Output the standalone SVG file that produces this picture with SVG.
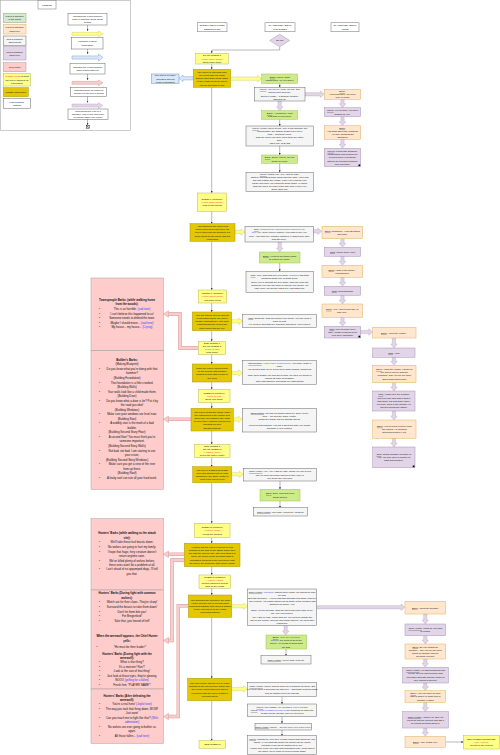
<svg xmlns="http://www.w3.org/2000/svg" width="500" height="755" viewBox="0 0 500 755">
<style>
text{font-family:"Liberation Sans",Arial,sans-serif;fill:#111}
.t{font-size:2.4px;text-anchor:middle}
.b{font-size:2.85px;text-anchor:middle}
.bb{font-weight:bold}
.u{text-decoration:underline}
.bl{fill:#3838ff}
.rd{fill:#ff3030}
.grey{fill:#f5f5f5;stroke:#666;stroke-width:.5}
.green{fill:#cdeb8b;stroke:#9bc25a;stroke-width:.5}
.lgreen{fill:#d5e8d4;stroke:#82b366;stroke-width:.5}
.orange{fill:#ffe6cc;stroke:#e0b060;stroke-width:.5}
.purple{fill:#e1d5e7;stroke:#a991b8;stroke-width:.5}
.yellow{fill:#ffff88;stroke:#b8b860;stroke-width:.5}
.gold{fill:#e3c800;stroke:#b09500;stroke-width:.5}
.pink{fill:#ffcccc;stroke:#a89a9a;stroke-width:.5}
.blue{fill:#dae8fc;stroke:#6c8ebf;stroke-width:.5}
.hdr{fill:#fff;stroke:#888;stroke-width:.6}
.fy{fill:#ffff88;stroke:#c8c850;stroke-width:.4}
.fb{fill:#dae8fc;stroke:#6c8ebf;stroke-width:.4}
.fp{fill:#e1d5e7;stroke:#b59ec4;stroke-width:.4}
.fr{fill:#f8cecc;stroke:#d08a88;stroke-width:.4}
.ln{fill:none;stroke:#333;stroke-width:.35;marker-end:url(#ah)}
.band1{fill:none;stroke:#d99090;stroke-width:3.4}
.band2{fill:none;stroke:#f8cecc;stroke-width:2.5}
.end{fill:#000;stroke:#fff;stroke-width:.3}
</style>
<defs>
<marker id="ah" viewBox="0 0 6 6" refX="6" refY="3" markerWidth="2" markerHeight="2" markerUnits="userSpaceOnUse" orient="auto"><path d="M0,0 L6,3 L0,6 z" fill="#333"/></marker>
</defs>
<rect width="500" height="755" fill="#fff"/>

<g id="legend">
<rect x="0.5" y="0.5" width="130" height="130" fill="#fff" stroke="#999" stroke-width=".5"/>
<rect class="hdr" x="38" y="0.5" width="18" height="8.5"/>
<text class="t" x="47" y="5.6">LEGEND</text>
<rect class="lgreen" x="3.3" y="13.3" width="22.7" height="9.4"/>
<text class="t"><tspan x="14.65" y="17.3">Player's dialogue</tspan><tspan x="14.65" y="20.4">in the quest</tspan></text>
<rect class="orange" x="3.3" y="24.3" width="22.7" height="9.7"/>
<text class="t"><tspan x="14.65" y="28.45">Player's dialogue</tspan><tspan x="14.65" y="31.55">about lore</tspan></text>
<rect class="grey" x="3.3" y="36" width="22.7" height="9.3"/>
<text class="t"><tspan x="14.65" y="39.95">NPC's dialogue</tspan><tspan x="14.65" y="43.05">about quest</tspan></text>
<rect class="purple" x="3.3" y="46.7" width="22.7" height="13.3"/>
<text class="t"><tspan x="14.65" y="52.65">NPC's dialogue</tspan><tspan x="14.65" y="55.75">about lore</tspan></text>
<rect class="pink" x="3.3" y="62.7" width="22.7" height="9"/>
<text class="t" x="14.65" y="68.05">NPC barks</text>
<rect class="yellow" x="3.3" y="73.3" width="27.4" height="12.7"/>
<text class="t"><tspan x="17" y="77.4"><tspan class="rd">QUEST TITLE</tspan> &amp; what</tspan><tspan x="17" y="80.5">the player displays as</tspan><tspan x="17" y="83.6">information</tspan></text>
<rect class="gold" x="3.3" y="87.7" width="25" height="9"/>
<text class="t" x="15.8" y="93.05">QUEST description</text>
<rect class="grey" x="3.3" y="98.7" width="27.4" height="9.6" style="fill:#fff"/>
<text class="t"><tspan x="17" y="102.8">Hints in BOLD=</tspan><tspan x="17" y="105.9">Nothing</tspan></text>

<rect class="grey" x="68" y="13.3" width="39" height="11.7" style="fill:#fff"/>
<text class="t"><tspan x="87.5" y="16.9">Indicates the exact moment</tspan><tspan x="87.5" y="20">when a dialogue about quest</tspan><tspan x="87.5" y="23.1">begins</tspan></text>
<polygon class="fy" points="72,32.35 98.5,32.35 98.5,31 103,33.85 98.5,36.7 98.5,35.35 72,35.35"/>
<rect class="grey" x="71.7" y="37.3" width="31.3" height="11.7" style="fill:#fff"/>
<text class="t"><tspan x="87.35" y="42.45">Indicates a visual</tspan><tspan x="87.35" y="45.55">description</tspan></text>
<polygon class="fb" points="72,55.9 98.5,55.9 98.5,54 103,57.5 98.5,61 98.5,59.1 72,59.1"/>
<rect class="grey" x="70" y="63.3" width="35" height="10.7" style="fill:#fff"/>
<text class="t"><tspan x="87.5" y="67.95">Indicates the exact moment</tspan><tspan x="87.5" y="71.05">when barks happens</tspan></text>
<polygon class="fr" points="72,81.35 98.5,81.35 98.5,80 103,82.85 98.5,85.7 98.5,84.35 72,84.35"/>
<rect class="grey" x="70.7" y="87.3" width="36" height="9.4" style="fill:#fff"/>
<text class="t"><tspan x="88.7" y="91.3">Indicates when an option to</tspan><tspan x="88.7" y="94.4">choose for the player begins</tspan></text>
<polygon class="fp" points="72,104 98.5,104 98.5,102.65 103,105.5 98.5,108.35 98.5,107 72,107"/>
<rect class="grey" x="68" y="109" width="40" height="10.3" style="fill:#fff"/>
<text class="t"><tspan x="88" y="111.9">Represents the end of a</tspan><tspan x="88" y="115">dialogue. Player will now have</tspan><tspan x="88" y="118.1">to choose again one option</tspan></text>
<path class="ln" d="M87.5,25 V31"/>
<path class="ln" d="M87.5,49 V54"/>
<path class="ln" d="M87.5,74 V80"/>
<path class="ln" d="M87.5,96.7 V102.6"/>
<path class="ln" d="M87.5,119.3 V125"/>
<rect x="86.2" y="125.2" width="3" height="3" fill="#fff" stroke="#000" stroke-width=".4"/>
<path d="M86.2,125.2 L89.2,128.2 M89.2,125.2 L86.2,128.2" stroke="#000" stroke-width=".4"/>
</g>

<g id="connectors">
<path class="ln" d="M279.7,46.75 V50 H211.7 V53.3"/>
<path class="ln" d="M211.7,64 V69.3"/>
<path class="ln" d="M279.7,83.3 V87.3"/>
<path class="ln" d="M279.7,119.3 V126"/>
<path class="ln" d="M279.7,146 V155"/>
<path class="ln" d="M279.7,163.3 V172.3"/>
<path class="ln" d="M211.7,87.3 V193"/>
<path class="ln" d="M211.7,211.3 V223.7"/>
<path class="ln" d="M279.7,263 V271.3"/>
<path class="ln" d="M211.7,241.3 V290"/>
<path class="ln" d="M211.7,303 V312"/>
<path class="ln" d="M211.7,330.7 V341.3"/>
<path class="ln" d="M211.7,354.7 V364"/>
<path class="ln" d="M211.7,382 V389.3"/>
<path class="ln" d="M211.7,402.7 V408.3"/>
<path class="ln" d="M211.7,431 V444.3"/>
<path class="ln" d="M211.7,457.7 V466.7"/>
<path class="ln" d="M280,481 V489.3"/>
<path class="ln" d="M280,501 V507.7"/>
<path class="ln" d="M211.7,482.7 V523.3"/>
<path class="ln" d="M211.7,537.7 V543.3"/>
<path class="ln" d="M211.7,566.7 V575"/>
<path class="ln" d="M211.7,588.3 V595"/>
<path class="ln" d="M286,649 V655.7"/>
<path class="ln" d="M211.7,617.3 V678.3"/>
<path class="ln" d="M282,696.7 V704"/>
<path class="ln" d="M282,716.7 V723.3"/>
<path class="ln" d="M282,730 V735.7"/>
<path class="ln" d="M211.7,700.7 V740.7"/>
<path class="ln" d="M445.7,742 H463.3"/>

<polygon class="fy" points="230.7,77.1 257.7,77.1 257.7,75.5 261.7,78.7 257.7,81.9 257.7,80.3 230.7,80.3"/>
<polygon class="fy" points="235,230.4 241,230.4 241,228.8 245,232 241,235.2 241,233.6 235,233.6"/>
<polygon class="fy" points="231.7,319.7 238.7,319.7 238.7,318.1 242.7,321.3 238.7,324.5 238.7,322.9 231.7,322.9"/>
<polygon class="fy" points="231.7,371.4 238.7,371.4 238.7,369.8 242.7,373 238.7,376.2 238.7,374.6 231.7,374.6"/>
<polygon class="fy" points="233.3,417.7 238.3,417.7 238.3,416.1 242.3,419.3 238.3,422.5 238.3,420.9 233.3,420.9"/>
<polygon class="fy" points="231.7,472.7 239.3,472.7 239.3,471.1 243.3,474.3 239.3,477.5 239.3,475.9 231.7,475.9"/>
<polygon class="fy" points="231.7,604.7 243.7,604.7 243.7,603.1 247.7,606.3 243.7,609.5 243.7,607.9 231.7,607.9"/>
<polygon class="fy" points="231.7,687.4 243.7,687.4 243.7,685.8 247.7,689 243.7,692.2 243.7,690.6 231.7,690.6"/>
<polygon class="fb" points="193.3,76.7 183,76.7 183,75.1 179,78.3 183,81.5 183,79.9 193.3,79.9"/>

<polygon class="fp" points="305,92.7 320.3,92.7 320.3,91.1 324.3,94.3 320.3,97.5 320.3,95.9 305,95.9"/>
<polygon class="fp" points="313.3,229.7 317.7,229.7 317.7,228.1 321.7,231.3 317.7,234.5 317.7,232.9 313.3,232.9"/>
<polygon class="fp" points="360.7,330.4 368.7,330.4 368.7,328.8 372.7,332 368.7,335.2 368.7,333.6 360.7,333.6"/>
<polygon class="fp" points="316.7,605.7 401,605.7 401,604.1 405,607.3 401,610.5 401,608.9 316.7,608.9"/>
<polygon class="fp" points="278.1,101 281.3,101 281.3,106.7 282.9,106.7 279.7,110.7 276.5,106.7 278.1,106.7"/>
<polygon class="fp" points="278.1,242 281.3,242 281.3,248 282.9,248 279.7,252 276.5,248 278.1,248"/>
<polygon class="fp" points="284.1,625.7 287.3,625.7 287.3,631 288.9,631 285.7,635 282.5,631 284.1,631"/>
<polygon class="fp" points="340.9,99.3 344.1,99.3 344.1,103.7 345.7,103.7 342.5,107.7 339.3,103.7 340.9,103.7"/>
<polygon class="fp" points="340.9,116.7 344.1,116.7 344.1,121.7 345.7,121.7 342.5,125.7 339.3,121.7 340.9,121.7"/>
<polygon class="fp" points="340.9,139.3 344.1,139.3 344.1,144.3 345.7,144.3 342.5,148.3 339.3,144.3 340.9,144.3"/>
<polygon class="fp" points="340.9,238.7 344.1,238.7 344.1,243.3 345.7,243.3 342.5,247.3 339.3,243.3 340.9,243.3"/>
<polygon class="fp" points="340.9,256.3 344.1,256.3 344.1,261.3 345.7,261.3 342.5,265.3 339.3,261.3 340.9,261.3"/>
<polygon class="fp" points="340.9,277.3 344.1,277.3 344.1,282.3 345.7,282.3 342.5,286.3 339.3,282.3 340.9,282.3"/>
<polygon class="fp" points="340.9,295.3 344.1,295.3 344.1,300 345.7,300 342.5,304 339.3,300 340.9,300"/>
<polygon class="fp" points="340.9,317.3 344.1,317.3 344.1,322.3 345.7,322.3 342.5,326.3 339.3,322.3 340.9,322.3"/>
<polygon class="fp" points="392.4,338 395.6,338 395.6,344 397.2,344 394,348 390.8,344 392.4,344"/>
<polygon class="fp" points="392.4,357.3 395.6,357.3 395.6,361.3 397.2,361.3 394,365.3 390.8,361.3 392.4,361.3"/>
<polygon class="fp" points="392.4,382.7 395.6,382.7 395.6,387 397.2,387 394,391 390.8,387 392.4,387"/>
<polygon class="fp" points="392.4,411 395.6,411 395.6,416 397.2,416 394,420 390.8,416 392.4,416"/>
<polygon class="fp" points="392.4,438.3 395.6,438.3 395.6,443 397.2,443 394,447 390.8,443 392.4,443"/>
<polygon class="fp" points="423.7,614 426.9,614 426.9,620 428.5,620 425.3,624 422.1,620 423.7,620"/>
<polygon class="fp" points="423.7,635.7 426.9,635.7 426.9,640 428.5,640 425.3,644 422.1,640 423.7,640"/>
<polygon class="fp" points="423.7,659 426.9,659 426.9,663.3 428.5,663.3 425.3,667.3 422.1,663.3 423.7,663.3"/>
<polygon class="fp" points="423.7,683 426.9,683 426.9,686.7 428.5,686.7 425.3,690.7 422.1,686.7 423.7,686.7"/>
<polygon class="fp" points="423.7,702.3 426.9,702.3 426.9,707.7 428.5,707.7 425.3,711.7 422.1,707.7 423.7,707.7"/>
<polygon class="fp" points="423.7,728 426.9,728 426.9,732.3 428.5,732.3 425.3,736.3 422.1,732.3 423.7,732.3"/>

<path class="band1" d="M198.3,348 H180 V314 H168.5"/>
<path class="band1" d="M191,419.3 H168.5"/>
<path class="band1" d="M184.3,554.3 H168.5"/>
<path class="band1" d="M184.3,560 H172 V640.5 H168.5"/>
<path class="band1" d="M188.3,605.7 H178.3 V716.5 H168.5"/>
<path class="band2" d="M198.3,348 H180 V314 H168"/>
<path class="band2" d="M191,419.3 H168"/>
<path class="band2" d="M184.3,554.3 H168"/>
<path class="band2" d="M184.3,560 H172 V640.5 H168"/>
<path class="band2" d="M188.3,605.7 H178.3 V716.5 H168"/>
<polygon class="fr" points="163.3,314 168.5,310.8 168.5,317.2"/>
<polygon class="fr" points="163.3,419.3 168.5,416.1 168.5,422.5"/>
<polygon class="fr" points="163.3,554.3 168.5,551.1 168.5,557.5"/>
<polygon class="fr" points="163.3,640.5 168.5,637.3 168.5,643.7"/>
<polygon class="fr" points="163.3,716.5 168.5,713.3 168.5,719.7"/>
</g>

<g id="headers">
<rect class="hdr" x="197.3" y="22.7" width="29.7" height="9"/>
<text class="t"><tspan x="212.15" y="26.45">QUEST LINE &amp; QUEST</tspan><tspan x="212.15" y="29.65">DESCRIPTION</tspan></text>
<rect class="hdr" x="265" y="22.7" width="30" height="9"/>
<text class="t"><tspan x="280" y="26.45">DIALOGUES ABOUT</tspan><tspan x="280" y="29.65">THE QUEST</tspan></text>
<rect class="hdr" x="331" y="22.7" width="28" height="9"/>
<text class="t"><tspan x="345" y="26.45">DIALOGUES ABOUT</tspan><tspan x="345" y="29.65">LORE</tspan></text>
</g>

<g id="start">
<polygon class="purple" points="279.7,34.3 289.7,40.5 279.7,46.75 269.7,40.5"/>
<text class="t" x="279.7" y="41.35">START</text>
</g>

<g id="q1">
<rect class="yellow" x="195.7" y="53.3" width="32.6" height="10.7"/>
<text class="t"><tspan x="212" y="56.3">START QUEST 1</tspan><tspan class="rd" x="212" y="59.5">"Home sweet home"</tspan><tspan x="212" y="62.7">Come back home</tspan></text>
</g>
<g id="g1">
<rect class="gold" x="193.3" y="69.3" width="37.4" height="18"/>
<text class="t"><tspan x="212" y="72.75">The player is returning from</tspan><tspan x="212" y="75.95">the forest after the basic</tspan><tspan x="212" y="79.15">tutorial (and when at the gates</tspan><tspan x="212" y="82.35">of the village sees the mayor</tspan><tspan x="212" y="85.55">injured and talks to him</tspan></text>
</g>
<g id="b1">
<rect class="blue" x="151.7" y="74" width="27.3" height="9.3"/>
<text class="t"><tspan x="165.35" y="76.3">The mayor is visibly</tspan><tspan x="165.35" y="79.5">wounded and his</tspan><tspan x="165.35" y="82.7">head is bandaged</tspan></text>
</g>
<g id="d1">
<rect class="green" x="261.7" y="74" width="36" height="9.3"/>
<text class="t"><tspan x="279.7" y="77.9"><tspan class="u">Bauu</tspan>: Mayor, what</tspan><tspan x="279.7" y="81.1">happened? Are you okay?</tspan></text>
</g>
<g id="d2">
<rect class="grey" x="254.3" y="87.3" width="50.7" height="13.7"/>
<text class="t"><tspan x="279.65" y="90.2"><tspan class="u">Mayor</tspan>: <tspan class="bl">(struggling)</tspan> Yeah, I'm fine, this</tspan><tspan x="279.65" y="93.4">wound can't beat me.</tspan><tspan x="279.65" y="96.6">But our village... a strange creature</tspan><tspan x="279.65" y="99.8">attacked us.</tspan></text>
</g>
<g id="d3">
<rect class="green" x="261.7" y="110.7" width="36" height="8.6"/>
<text class="t"><tspan x="279.7" y="114.25"><tspan class="u">Bauu</tspan>: A creature?! Yeah</tspan><tspan x="279.7" y="117.45">and how is everyone?</tspan></text>
</g>
<g id="d4">
<rect class="grey" x="246" y="126" width="67.3" height="20"/>
<text class="t"><tspan x="279.65" y="129.35"><tspan class="u">Mayor</tspan>: Luckily we're all fine, only a few wounds, but</tspan><tspan x="279.65" y="132.35">unfortunately the dragon destroyed a lot of</tspan><tspan x="279.65" y="135.35">huts... including yours.</tspan><tspan x="279.65" y="138.35">Now we need your help, more than any other</tspan><tspan x="279.65" y="141.35">time.</tspan><tspan x="279.65" y="144.35">HELP US, PLEASE</tspan></text>
</g>
<g id="d5">
<rect class="green" x="261.7" y="155" width="36" height="8.3"/>
<text class="t"><tspan x="279.7" y="158.4"><tspan class="u">Bauu</tspan>: Surely Mayor. Tell me</tspan><tspan x="279.7" y="161.6">what you need.</tspan></text>
</g>
<g id="d6">
<rect class="grey" x="246" y="172.3" width="67.3" height="19"/>
<text class="t"><tspan x="279.65" y="175.15"><tspan class="u">Mayor</tspan>: Thank you, "PLAYER NAME".</tspan><tspan x="279.65" y="178.15">Start by collecting some wood with the Jack, you'll find</tspan><tspan x="279.65" y="181.15">him just outside the village. Then you'll rebuild your</tspan><tspan x="279.65" y="184.15">house and once you complete these tasks, I'll check</tspan><tspan x="279.65" y="187.15">what we need, so come back later and I'll give you</tspan><tspan x="279.65" y="190.15">some other job.</tspan></text>
</g>

<g id="l1">
<rect class="orange" x="324.3" y="89.3" width="36.4" height="10"/>
<text class="t"><tspan x="342.5" y="92.15"><tspan class="u">Bauu</tspan>:</tspan><tspan x="342.5" y="95.15">How long have you been</tspan><tspan x="342.5" y="98.15">here in pain?</tspan></text>
</g>
<g id="l2">
<rect class="purple" x="324.3" y="107.7" width="36.4" height="9"/>
<text class="t"><tspan x="342.5" y="111.45"><tspan class="u">Mayor</tspan>: I've no idea, I've been</tspan><tspan x="342.5" y="114.65">waiting for you.</tspan></text>
</g>
<g id="l3">
<rect class="orange" x="324.3" y="125.7" width="36.4" height="13.6"/>
<text class="t"><tspan x="342.5" y="128.55"><tspan class="u">Bauu</tspan>:</tspan><tspan x="342.5" y="131.75">And what about the villagers?</tspan><tspan x="342.5" y="134.95">Are they handling the</tspan><tspan x="342.5" y="138.15">situation?</tspan></text>
</g>
<g id="l4">
<rect class="purple" x="324.3" y="148.3" width="36.4" height="18.4"/>
<text class="t"><tspan x="342.5" y="151.95"><tspan class="u">Mayor</tspan>: It depends. Builders,</tspan><tspan x="342.5" y="155.15">lumberjacks and hunters are</tspan><tspan x="342.5" y="158.35">trying to solve everything.</tspan><tspan x="342.5" y="161.55">Others are troubled between</tspan><tspan x="342.5" y="164.75">fear and hope.</tspan></text>
<rect class="end" x="358.2" y="164.2" width="2.2" height="2.2"/>
</g>

<g id="q1c">
<rect class="yellow" x="197.3" y="193" width="29.4" height="18.3"/>
<text class="t"><tspan x="212" y="199.8">QUEST 1 (continue)</tspan><tspan class="rd" x="212" y="203">"Home sweet home"</tspan><tspan x="212" y="206.2">Walk to the woods</tspan></text>
</g>
<g id="g2">
<rect class="gold" x="190" y="223.7" width="45" height="17.6"/>
<text class="t"><tspan x="212.5" y="226.95">After talking to the mayor and</tspan><tspan x="212.5" y="230.15">discovering what happened, the</tspan><tspan x="212.5" y="233.35">player goes into the woods to cut</tspan><tspan x="212.5" y="236.55">some wood for the house with the</tspan><tspan x="212.5" y="239.75">lumberjack</tspan></text>
</g>
<g id="d7">
<rect class="grey" x="245" y="226.3" width="68.3" height="15.7"/>
<text class="t"><tspan x="279.15" y="230.2"><tspan class="u">Jack</tspan>: <tspan class="bl">(dropping the chopping and leaning on his</tspan></tspan><tspan x="279.15" y="233.4"><tspan class="bl">axe)</tspan> Hey, there [Player Name]! I am glad to see you</tspan><tspan x="279.15" y="236.6">alive. After that fiery monster attacked, it wasn't sure who</tspan><tspan x="279.15" y="239.8">was still alive.</tspan></text>
</g>
<g id="d8">
<rect class="green" x="259.3" y="252" width="40.7" height="11"/>
<text class="t"><tspan x="279.65" y="256.75"><tspan class="u">Bauu</tspan>: I need to get some wood</tspan><tspan x="279.65" y="259.95">to rebuild my home.</tspan></text>
</g>
<g id="d9">
<rect class="grey" x="246" y="271.3" width="67.3" height="21"/>
<text class="t"><tspan x="279.65" y="276.25"><tspan class="u">Jack</tspan>: Well, grab that axe over there <tspan class="bl">(pointing)</tspan> and start</tspan><tspan x="279.65" y="279.45">chopping down one of those trees.</tspan><tspan x="279.65" y="282.65">Once you've brought the tree down, chop the logs into</tspan><tspan x="279.65" y="285.85">planks so you can use them to rebuild your house. It's</tspan><tspan x="279.65" y="289.05">easy once you get the hang of it, just watch me.</tspan></text>
</g>

<g id="l5">
<rect class="orange" x="322" y="226.3" width="40.7" height="12.4"/>
<text class="t"><tspan x="342.35" y="231.75"><tspan class="u">Bauu</tspan>: Thankfully, I can still stand</tspan><tspan x="342.35" y="234.95">and walk.</tspan></text>
</g>
<g id="l6">
<rect class="purple" x="324.3" y="247.3" width="36.4" height="9"/>
<text class="t" x="342.5" y="252.65"><tspan class="u">Jack</tspan>: Where were you?</text>
</g>
<g id="l7">
<rect class="orange" x="322" y="265.3" width="40.7" height="12"/>
<text class="t"><tspan x="342.35" y="270.55"><tspan class="u">Bauu</tspan>: I was in the forest...</tspan><tspan x="342.35" y="273.75">unconscious.</tspan></text>
</g>
<g id="l8">
<rect class="purple" x="324.3" y="286.3" width="36.4" height="9"/>
<text class="t" x="342.5" y="291.65"><tspan class="u">Jack</tspan>: Unconscious?</text>
</g>
<g id="l9">
<rect class="orange" x="322" y="304" width="40.7" height="13.3"/>
<text class="t"><tspan x="342.35" y="309.9"><tspan class="u">Bauu</tspan>: Yes, I don't know why or</tspan><tspan x="342.35" y="313.1">how, but...</tspan></text>
</g>
<g id="l10">
<rect class="purple" x="324.3" y="326.3" width="36.4" height="11.7"/>
<text class="t"><tspan x="342.5" y="329.8"><tspan class="u">Jack</tspan>: Well at least you're</tspan><tspan x="342.5" y="333">safe. Village is gonna need</tspan><tspan x="342.5" y="336.2">your help, champion.</tspan></text>
<rect class="end" x="358.2" y="335.5" width="2.2" height="2.2"/>
</g>
<g id="l11">
<rect class="orange" x="372.7" y="327.3" width="43.3" height="10.7"/>
<text class="t" x="394.35" y="333.5"><tspan class="u">Bauu</tspan>: About the village...</text>
</g>
<g id="l12">
<rect class="purple" x="372.7" y="348" width="42.3" height="9.3"/>
<text class="t" x="393.85" y="353.5"><tspan class="u">Jack</tspan>: Yes?</text>
</g>
<g id="l13">
<rect class="orange" x="372.7" y="365.3" width="43.3" height="17.4"/>
<text class="t"><tspan x="394.35" y="370.05"><tspan class="u">Bauu</tspan>: About the village, I spoke to</tspan><tspan x="394.35" y="373.25">the mayor but he was still</tspan><tspan x="394.35" y="376.45">confused. Can you tell me more</tspan><tspan x="394.35" y="379.65">about what happened?</tspan></text>
</g>
<g id="l14">
<rect class="purple" x="372.7" y="391" width="42.3" height="20"/>
<text class="t"><tspan x="393.85" y="395.45"><tspan class="u">Jack</tspan>: I didn't see the creature</tspan><tspan x="393.85" y="398.65">but everyone who saw it said it</tspan><tspan x="393.85" y="401.85">was giant, red and super scary.</tspan><tspan x="393.85" y="405.05">For sure, fire's in the house? He</tspan><tspan x="393.85" y="408.25">got hurt during the attack.</tspan></text>
</g>
<g id="l15">
<rect class="orange" x="372.7" y="420" width="43.3" height="18.3"/>
<text class="t"><tspan x="394.35" y="426.8"><tspan class="u">Bauu</tspan>: He's trying to recover from</tspan><tspan x="394.35" y="430">the furious. He seemed</tspan><tspan x="394.35" y="433.2">determined when I left.</tspan></text>
</g>
<g id="l16">
<rect class="purple" x="372.7" y="447" width="42.3" height="20.7"/>
<text class="t"><tspan x="393.85" y="455"><tspan class="u">Jack</tspan>: That's probably because of</tspan><tspan x="393.85" y="458.2">you. We may have a chance to</tspan><tspan x="393.85" y="461.4">fight that creature.</tspan></text>
<rect class="end" x="412.5" y="465.2" width="2.2" height="2.2"/>
</g>

<g id="q1c2">
<rect class="yellow" x="198.3" y="290" width="28.4" height="13"/>
<text class="t"><tspan x="212.5" y="294.15">QUEST 1 (continue)</tspan><tspan class="rd" x="212.5" y="297.35">"Home sweet home"</tspan><tspan x="212.5" y="300.55">Cut some wood</tspan></text>
</g>
<g id="g3">
<rect class="gold" x="192.3" y="312" width="39.4" height="18.7"/>
<text class="t"><tspan x="212" y="315.8">After the tutorial and an amount</tspan><tspan x="212" y="319">of harvested wood, the player</tspan><tspan x="212" y="322.2">shows (automatically) and Jack</tspan><tspan x="212" y="325.4">compliments him, giving him</tspan><tspan x="212" y="328.6">some wood and the axe</tspan></text>
</g>
<g id="d10">
<rect class="grey" x="242.7" y="314.7" width="74" height="12.6"/>
<text class="t"><tspan x="279.7" y="318.65"><tspan class="u">Jack</tspan>: Good job. Now go rebuild your house, you will need a</tspan><tspan x="279.7" y="321.85">place to rest.</tspan><tspan x="279.7" y="325.05">Ha, ha sure hold that axe and take this wood, you'll need it.</tspan></text>
</g>
<g id="q2">
<rect class="yellow" x="198.3" y="341.3" width="27.4" height="13.4"/>
<text class="t"><tspan x="212" y="344.35">END QUEST 1</tspan><tspan x="212" y="347.35">START QUEST 2</tspan><tspan class="rd" x="212" y="350.35">"Place to rest"</tspan><tspan x="212" y="353.35">Walk home</tspan></text>
</g>
<g id="g4">
<rect class="gold" x="192.3" y="364" width="39.4" height="18"/>
<text class="t"><tspan x="212" y="369.05">When the player returns home</tspan><tspan x="212" y="372.25">he will find the stonemason</tspan><tspan x="212" y="375.45">waiting for him right in front of</tspan><tspan x="212" y="378.65">the ruins</tspan></text>
</g>
<g id="d11">
<rect class="grey" x="242.7" y="360.7" width="74" height="23.6"/>
<text class="t"><tspan x="279.7" y="364.35"><tspan class="u">Stonemason</tspan>: <tspan class="bl">(With a tone of superiority)</tspan> You finally made it</tspan><tspan x="279.7" y="367.35">back.</tspan><tspan x="279.7" y="370.35">You sensed that you've never been when tragedy happened.</tspan><tspan x="279.7" y="376.35">Now, don't answer me and get to work, we have an house to</tspan><tspan x="279.7" y="379.35">rebuild as soon as possible.</tspan><tspan x="279.7" y="382.35">Take that hammer and follow my instructions!</tspan></text>
</g>
<g id="q2c">
<rect class="yellow" x="198.3" y="389.3" width="31.7" height="13.4"/>
<text class="t"><tspan x="214.15" y="393.65">QUEST 2 (continue)</tspan><tspan class="rd" x="214.15" y="396.85">"Place to rest"</tspan><tspan x="214.15" y="400.05">Build your home</tspan></text>
</g>
<g id="g5">
<rect class="gold" x="191" y="408.3" width="42.3" height="22.7"/>
<text class="t"><tspan x="212.15" y="412.5">The player builds the house under</tspan><tspan x="212.15" y="415.7">the instructions of the mason and</tspan><tspan x="212.15" y="418.9">when they are finished, they start</tspan><tspan x="212.15" y="422.1">to hear other villagers running and</tspan><tspan x="212.15" y="425.3">shouting for help</tspan><tspan x="212.15" y="428.5">(Building tutorial)</tspan></text>
</g>
<g id="d12">
<rect class="grey" x="242.3" y="408.3" width="74.4" height="23.7"/>
<text class="t"><tspan x="279.5" y="413.5"><tspan class="u">Stonemason</tspan>: Go find out what's going on, since you're</tspan><tspan x="279.5" y="416.5">here... Go find the Chief Hunter.</tspan><tspan x="279.5" y="419.5">Cross the bridge and go straight ahead.</tspan><tspan x="279.5" y="425.5">And keep that hammer, you did a great job with your house.</tspan><tspan x="279.5" y="428.5">Consider it your reward.</tspan></text>
</g>
<g id="q3">
<rect class="yellow" x="194.3" y="444.3" width="35.7" height="13.4"/>
<text class="t"><tspan x="212.15" y="447.35">END QUEST 2</tspan><tspan x="212.15" y="450.35">START QUEST 3</tspan><tspan class="rd" x="212.15" y="453.35">"Another Attack"</tspan><tspan x="212.15" y="456.35">Get to the Chief Hunter</tspan></text>
</g>
<g id="g6">
<rect class="gold" x="192.7" y="466.7" width="39" height="16"/>
<text class="t"><tspan x="212.2" y="470.75">The player crosses the bridge</tspan><tspan x="212.2" y="473.95">and runs straight until he gets</tspan><tspan x="212.2" y="477.15">stopped by the Chief Hunter in</tspan><tspan x="212.2" y="480.35">front of the mayor's hut</tspan></text>
</g>
<g id="d13">
<rect class="grey" x="243.3" y="468.3" width="73.4" height="12.7"/>
<text class="t"><tspan x="280" y="472.3"><tspan class="u">Chief Hunter</tspan>: Hey, "PLAYER NAME", would you like to join</tspan><tspan x="280" y="475.5">us? I'm off to get some wolves to take care of.</tspan><tspan x="280" y="478.7">We could use your help.</tspan></text>
</g>
<g id="d14">
<rect class="green" x="260" y="489.3" width="40" height="11.7"/>
<text class="t"><tspan x="280" y="494.4"><tspan class="u">Bauu</tspan>: Sure. Let's get rid of</tspan><tspan x="280" y="497.6">these wolves</tspan></text>
</g>
<g id="d15">
<rect class="grey" x="253.3" y="507.7" width="54" height="8.3"/>
<text class="t" x="280.3" y="512.7"><tspan class="u">Chief Hunter</tspan>: Well said. Follow me, hunters!</text>
</g>
<g id="q3c">
<rect class="yellow" x="194.3" y="523.3" width="35.7" height="14.4"/>
<text class="t"><tspan x="212.15" y="528.15">QUEST 3 (continue)</tspan><tspan class="rd" x="212.15" y="531.35">"Another Attack"</tspan><tspan x="212.15" y="534.55">Follow the hunters</tspan></text>
</g>
<g id="g7">
<rect class="gold" x="184.3" y="543.3" width="55.7" height="23.4"/>
<text class="t"><tspan x="212.15" y="547.85">Hunters and the player proceed on foot</tspan><tspan x="212.15" y="551.05">together to the side of the attack where they</tspan><tspan x="212.15" y="554.25">will fight the wolves until, after defeating 3 of</tspan><tspan x="212.15" y="557.45">them, the power of the werewolf boss is</tspan><tspan x="212.15" y="560.65">unleashed (proceed to the next move) that</tspan><tspan x="212.15" y="563.85">the player will annihilate with critical combo</tspan></text>
</g>
<g id="q3c2">
<rect class="yellow" x="199" y="575" width="31.7" height="13.3"/>
<text class="t"><tspan x="214.85" y="578">QUEST 3 (continue)</tspan><tspan class="rd" x="214.85" y="581">"Another Attack"</tspan><tspan x="214.85" y="584">Collect resources and go</tspan><tspan x="214.85" y="587">back to the village</tspan></text>
</g>
<g id="g8">
<rect class="gold" x="188.3" y="595" width="43.4" height="22.3"/>
<text class="t"><tspan x="210" y="600.6">After defeating the werewolf, the Chief</tspan><tspan x="210" y="603.8">Hunter and the player collects some</tspan><tspan x="210" y="607">resources together from wolves' bodies</tspan><tspan x="210" y="610.2">before moving on to the village</tspan><tspan x="210" y="613.4">(Collecting tutorial)</tspan></text>
</g>
<g id="d16">
<rect class="grey" x="247.7" y="589" width="69" height="36.7"/>
<text class="t"><tspan x="282.2" y="592.7"><tspan class="u">Chief Hunter</tspan>: <tspan class="bl">(troubled)</tspan> Without their leader, we should be safe</tspan><tspan x="282.2" y="595.8">for now.</tspan><tspan x="282.2" y="598.9">But that werewolf... I never saw that strength and those colors in</tspan><tspan x="282.2" y="602">one of them. His claws looked just as those of the creature that</tspan><tspan x="282.2" y="605.1">attacked us before. Hm.</tspan><tspan x="282.2" y="611.3">Bauu, let our wounds, grab the tales and come back at my</tspan><tspan x="282.2" y="614.4">hut. We'll meet there.</tspan><tspan x="282.2" y="617.5">"PLAYER NAME", come with me. We need to update the</tspan><tspan x="282.2" y="620.6">mayor but, before, help me skin these wolves. We need their</tspan><tspan x="282.2" y="623.7">resources.</tspan></text>
</g>
<g id="d17">
<rect class="green" x="266" y="635" width="40.7" height="14"/>
<text class="t"><tspan x="286.35" y="638.05"><tspan class="u">Bauu</tspan>: <tspan class="bl">(after the collecting</tspan></tspan><tspan x="286.35" y="641.25"><tspan class="bl">tutorial)</tspan> We need to go to the</tspan><tspan x="286.35" y="644.45">mayor. He needs to know what</tspan><tspan x="286.35" y="647.65">we saw.</tspan></text>
</g>
<g id="d18">
<rect class="grey" x="261" y="655.7" width="50" height="8.3"/>
<text class="t" x="286" y="660.7"><tspan class="u">Chief Hunter</tspan>: You're right. Let's go.</text>
</g>
<g id="g9">
<rect class="gold" x="187.7" y="678.3" width="44" height="22.4"/>
<text class="t"><tspan x="209.7" y="683.95">The chief hunter and the player return</tspan><tspan x="209.7" y="687.15">together to the mayor's hut, where they</tspan><tspan x="209.7" y="690.35">will explain what happened and he</tspan><tspan x="209.7" y="693.55">reconciles with the player getting a</tspan><tspan x="209.7" y="696.75">fireproof shield</tspan></text>
</g>
<g id="d19">
<rect class="grey" x="247.7" y="682.3" width="69" height="14.4"/>
<text class="t"><tspan x="282.2" y="687.15"><tspan class="u">Chief Hunter</tspan>: Mayor, wolves won't be a problem anymore. But</tspan><tspan x="282.2" y="690.35">I've never seen a werewolf like that one... with those burning claws</tspan><tspan x="282.2" y="693.55">and he destroyed all our shields.</tspan></text>
</g>
<g id="d20">
<rect class="grey" x="247.7" y="704" width="69" height="12.7"/>
<text class="t"><tspan x="282.2" y="708"><tspan class="u">Mayor</tspan>: Fire claws? Are you sure? <tspan class="bl">(LOW NOISE)</tspan></tspan><tspan x="282.2" y="711.2"><tspan class="u">Mayor</tspan>: <tspan class="bl">(With a frightened look)</tspan> I'll be prepared for when the</tspan><tspan x="282.2" y="714.4">beast returns. So take care of your boys</tspan></text>
</g>
<g id="d21">
<rect class="grey" x="255" y="723.3" width="56.7" height="6.7"/>
<text class="t" x="283.35" y="727.5"><tspan class="u">Chief Hunter</tspan>: Mayor... <tspan class="bl">(Bends down and walks away)</tspan></text>
</g>
<g id="d22">
<rect class="grey" x="247.7" y="735.7" width="69" height="19"/>
<text class="t"><tspan x="282.2" y="739.65"><tspan class="u">Mayor</tspan>: Thanks for your help. Please accept this shield as your</tspan><tspan x="282.2" y="742.85">tribute. If you fight that beast, the shield can be useful</tspan><tspan x="282.2" y="746.05">because it will not be destroyed by fire.</tspan><tspan x="282.2" y="749.25">Village may need your help with something else, come talk to</tspan><tspan x="282.2" y="752.45">me when you're ready to receive some tasks.</tspan></text>
</g>
<g id="q4">
<rect class="yellow" x="199" y="740.7" width="26.7" height="7.6"/>
<text class="t" x="212.35" y="745.35">END QUEST 3</text>
</g>

<g id="l17">
<rect class="orange" x="405" y="601.3" width="40.7" height="12.7"/>
<text class="t" x="425.35" y="608.5"><tspan class="u">Bauu</tspan>: About the monster.</text>
</g>
<g id="l18">
<rect class="purple" x="405" y="624" width="40.7" height="11.7"/>
<text class="t"><tspan x="425.35" y="629.1"><tspan class="u">Chief Hunter</tspan>: What do you want</tspan><tspan x="425.35" y="632.3">to know?</tspan></text>
</g>
<g id="l19">
<rect class="orange" x="405" y="644" width="40.7" height="15"/>
<text class="t"><tspan x="425.35" y="647.55"><tspan class="u">Bauu</tspan>: So you fought the</tspan><tspan x="425.35" y="650.75">monster... can you tell me more</tspan><tspan x="425.35" y="653.95">about it? Nobody told me</tspan><tspan x="425.35" y="657.15">anything relevant.</tspan></text>
</g>
<g id="l20">
<rect class="purple" x="402.7" y="667.3" width="45.6" height="15.7"/>
<text class="t"><tspan x="425.5" y="671.2"><tspan class="u">Chief Hunter</tspan>: He was enormous and</tspan><tspan x="425.5" y="674.4">all red, as if he was burning, with</tspan><tspan x="425.5" y="677.6">incredible strength and the power to</tspan><tspan x="425.5" y="680.8">give orders to wolves.</tspan></text>
</g>
<g id="l21">
<rect class="orange" x="405" y="690.7" width="40.7" height="11.6"/>
<text class="t"><tspan x="425.35" y="694.15"><tspan class="u">Bauu</tspan>: And you have no idea</tspan><tspan x="425.35" y="697.35">how to fight it or what kind of</tspan><tspan x="425.35" y="700.55">monster it was?</tspan></text>
</g>
<g id="l22">
<rect class="purple" x="402.7" y="711.7" width="45.6" height="16.3"/>
<text class="t"><tspan x="425.5" y="717.5"><tspan class="u">Chief Hunter</tspan>: Actually no. But you</tspan><tspan x="425.5" y="720.7">could go find the ancient and ask if</tspan><tspan x="425.5" y="723.9">he knows anything about it.</tspan></text>
</g>
<g id="l23">
<rect class="orange" x="405" y="736.3" width="40.7" height="11"/>
<text class="t" x="425.35" y="742.65"><tspan class="u">Bauu</tspan>: I will. Thank you.</text>
</g>
<g id="newquest">
<rect class="yellow" x="463.3" y="735.7" width="36.2" height="13.3"/>
<text class="t"><tspan x="481.4" y="740">NEW QUEST UNLOCKED:</tspan><tspan class="rd" x="481.4" y="743.2">"The Ancient"</tspan><tspan x="481.4" y="746.4">Go talk to the ancient</tspan></text>
</g>

<g id="barks-townspeople">
<rect class="pink" x="91" y="278" width="72.3" height="72.7"/>
<text class="b"><tspan class="bb" x="127" y="300.7">Townspeople Barks: (while walking home</tspan><tspan class="bb" x="127" y="305">from the woods):</tspan><tspan x="132" y="310">This is so horrible. <tspan class="bl">(sad tone)</tspan></tspan><tspan x="132" y="314.7">I can't believe this happened to us!</tspan><tspan x="132" y="319">Someone needs to defend the town.</tspan><tspan x="132" y="323.7">Maybe I should move... <tspan class="bl">(sad tone)</tspan></tspan><tspan x="132" y="328">My house... my house... <tspan class="bl">(Crying)</tspan></tspan></text>
<text class="b"><tspan x="99.5" y="310">•</tspan><tspan x="99.5" y="314.7">•</tspan><tspan x="99.5" y="319">•</tspan><tspan x="99.5" y="323.7">•</tspan><tspan x="99.5" y="328">•</tspan></text>
</g>
<g id="barks-builders">
<rect class="pink" x="91" y="350.7" width="72.3" height="138.6"/>
<text class="b"><tspan class="bb" x="127" y="360.7">Builder's Barks:</tspan><tspan x="127" y="365.3">(Making Blueprint)</tspan><tspan x="132" y="370">Do you know what you're doing with that</tspan><tspan x="132" y="374.3">hammer?</tspan><tspan x="127" y="379.3">(Building Foundation)</tspan><tspan x="132" y="383.7">That foundation is a little crooked.</tspan><tspan x="127" y="388.3">(Building Walls)</tspan><tspan x="132" y="392.7">Your walls look like a child made them.</tspan><tspan x="127" y="397.3">(Building Door)</tspan><tspan x="132" y="401.7">Do you know what a door is for? Put it by</tspan><tspan x="132" y="406">the road you idiot!</tspan><tspan x="127" y="410.7">(Building Windows)</tspan><tspan x="132" y="415.3">Make sure your windows are level now.</tspan><tspan x="127" y="419.7">(Building Stair)</tspan><tspan x="132" y="424.3">A wobbly stair is the mark of a bad</tspan><tspan x="132" y="428.7">builder.</tspan><tspan x="127" y="433.3">(Building Second Story Floor)</tspan><tspan x="132" y="438">A second floor! You must think you're</tspan><tspan x="132" y="442.3">someone important.</tspan><tspan x="127" y="447">(Building Second Story Walls)</tspan><tspan x="132" y="451.7">Not bad, not bad. I am starting to see</tspan><tspan x="132" y="456">your vision.</tspan><tspan x="127" y="460.7">(Building Second Story Windows)</tspan><tspan x="132" y="465.3">Make sure you get a view of the river</tspan><tspan x="132" y="469.7">from up there.</tspan><tspan x="127" y="474.3">(Building Roof)</tspan><tspan x="132" y="479">A leaky roof can ruin all your hard work.</tspan></text>
<text class="b"><tspan x="99.5" y="370">•</tspan><tspan x="99.5" y="383.7">•</tspan><tspan x="99.5" y="392.7">•</tspan><tspan x="99.5" y="401.7">•</tspan><tspan x="99.5" y="415.3">•</tspan><tspan x="99.5" y="424.3">•</tspan><tspan x="99.5" y="438">•</tspan><tspan x="99.5" y="451.7">•</tspan><tspan x="99.5" y="465.3">•</tspan><tspan x="99.5" y="479">•</tspan></text>
</g>
<g id="barks-hunters-walking">
<rect class="pink" x="91" y="518.7" width="72.3" height="71.3"/>
<text class="b"><tspan class="bb" x="127" y="534.3">Hunters' Barks (while walking to the attack</tspan><tspan class="bb" x="127" y="538.7">site):</tspan><tspan x="132" y="543.3">We'll take these foul beasts down.</tspan><tspan x="132" y="548">No wolves are going to hurt my family.</tspan><tspan x="132" y="552.7">I hope that huge, fiery creature doesn't</tspan><tspan x="132" y="557">return anytime soon.</tspan><tspan x="132" y="561.7">We've killed plenty of wolves before,</tspan><tspan x="132" y="566">these ones won't be a problem at all.</tspan><tspan x="132" y="570.3">I ain't afraid of no uppumped dogs, I'll tell</tspan><tspan x="132" y="574.7">you that.</tspan></text>
<text class="b"><tspan x="99.5" y="543.3">•</tspan><tspan x="99.5" y="548">•</tspan><tspan x="99.5" y="552.7">•</tspan><tspan x="99.5" y="561.7">•</tspan><tspan x="99.5" y="570.3">•</tspan></text>
</g>
<g id="barks-hunters-fight">
<rect class="pink" x="91" y="590" width="72.3" height="99"/>
<text class="b"><tspan class="bb" x="127" y="594.3">Hunters' Barks (During fight with common</tspan><tspan class="bb" x="127" y="598.7">wolves):</tspan><tspan x="132" y="603.3">Watch out for their claws. They're sharp!</tspan><tspan x="132" y="608">Surround the beasts to take them down!</tspan><tspan x="132" y="612.7">Don't let them bite you!</tspan><tspan x="132" y="617">For Bregenford!</tspan><tspan x="132" y="621.7">Take that, you hound of hell!</tspan><tspan class="bb" x="127" y="637.3">When the werewolf appears, the Chief Hunter</tspan><tspan class="bb" x="127" y="641.7">yells:</tspan><tspan x="130" y="648.3">"He must be their leader!"</tspan><tspan class="bb" x="127" y="654.7">Hunters' Barks (During fight with the</tspan><tspan class="bb" x="127" y="659">werewolf):</tspan><tspan x="132" y="663.3">What is that thing?</tspan><tspan x="132" y="668">It's a monster! Run!!!</tspan><tspan x="132" y="672.3">Look at the size of that thing!</tspan><tspan x="132" y="676.7">Just look at those eyes, they're glowing.</tspan><tspan x="132" y="681.3">NOOO <tspan class="bl">(yelling for a fallen)</tspan></tspan><tspan x="132" y="686">Finish him, "PLAYER NAME"!</tspan></text>
<text class="b"><tspan x="99.5" y="603.3">•</tspan><tspan x="99.5" y="608">•</tspan><tspan x="99.5" y="612.7">•</tspan><tspan x="99.5" y="617">•</tspan><tspan x="99.5" y="621.7">•</tspan><tspan x="97" y="648.3">•</tspan><tspan x="99.5" y="663.3">•</tspan><tspan x="99.5" y="668">•</tspan><tspan x="99.5" y="672.3">•</tspan><tspan x="99.5" y="676.7">•</tspan><tspan x="99.5" y="681.3">•</tspan><tspan x="99.5" y="686">•</tspan></text>
</g>
<g id="barks-hunters-after">
<rect class="pink" x="91" y="689" width="72.3" height="54.3"/>
<text class="b"><tspan class="bb" x="127" y="697">Hunters' Barks (After defeating the</tspan><tspan class="bb" x="127" y="701.3">werewolf):</tspan><tspan x="132" y="705.3">You're a real hero! <tspan class="bl">(Joyful tone)</tspan></tspan><tspan x="132" y="709.7">The way you took that thing down, WOW!</tspan><tspan x="132" y="714">Just wow!</tspan><tspan x="132" y="718.7">Can you teach me to fight like that? <tspan class="bl">(With</tspan></tspan><tspan class="bl" x="132" y="723">admiration)</tspan><tspan x="132" y="727.7">No wolves are ever going to bother us</tspan><tspan x="132" y="732">again.</tspan><tspan x="132" y="736.7">All those fallen... <tspan class="bl">(sad tone)</tspan></tspan></text>
<text class="b"><tspan x="99.5" y="705.3">•</tspan><tspan x="99.5" y="709.7">•</tspan><tspan x="99.5" y="718.7">•</tspan><tspan x="99.5" y="727.7">•</tspan><tspan x="99.5" y="736.7">•</tspan></text>
</g>
</svg>
